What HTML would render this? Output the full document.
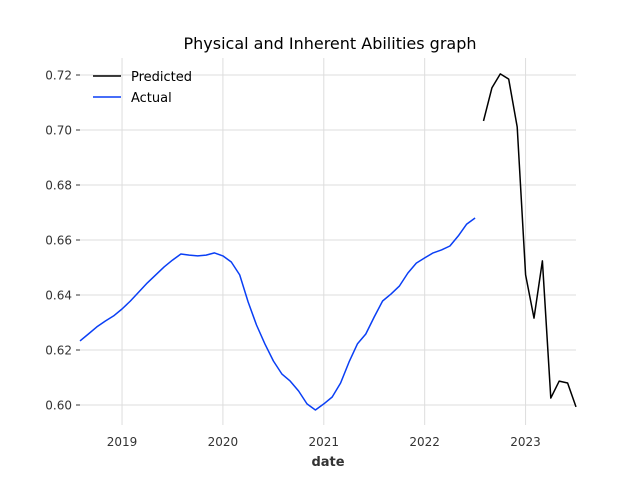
<!DOCTYPE html>
<html><head><meta charset="utf-8"><style>
body{margin:0;background:#fff;}
svg{display:block;font-family:"DejaVu Sans","Liberation Sans",sans-serif;}
</style></head><body>
<svg id="chart" width="640" height="480">
<text x="330" y="49" text-anchor="middle" font-size="16" fill="#000">Physical and Inherent Abilities graph</text>
<g id="grid"></g><g id="axes"></g><g id="series"></g>
<text x="328" y="466" text-anchor="middle" font-size="13" font-weight="bold" fill="#333">date</text>
<g>
<g><line x1="93" y1="76" x2="121" y2="76" stroke="#000" stroke-width="1.5"/><text x="131" y="81" font-size="13" fill="#000">Predicted</text></g>
<g><line x1="93" y1="97" x2="121" y2="97" stroke="#0a3ff5" stroke-width="1.5"/><text x="131" y="102" font-size="13" fill="#000">Actual</text></g>
</g>
</svg>
<script>
const actualStart = 2018 + 7/12;
const actualValues = [0.6233,0.6258,0.6284,0.6305,0.6324,0.6349,0.6378,0.6411,0.6444,0.6473,0.6502,0.6527,0.6549,0.6545,0.6542,0.6545,0.6553,0.6542,0.6520,0.6473,0.6375,0.6291,0.6222,0.6160,0.6113,0.6087,0.6051,0.6004,0.5982,0.6004,0.6029,0.6080,0.6156,0.6222,0.6258,0.6320,0.6378,0.6404,0.6433,0.6480,0.6516,0.6535,0.6553,0.6564,0.6578,0.6615,0.6658,0.6680];
const predStart = 2022 + 7/12;
const predValues = [0.7033,0.7153,0.7204,0.7185,0.7011,0.6473,0.6316,0.6524,0.6025,0.6087,0.6080,0.5993];
const xTicks = [2019,2020,2021,2022,2023];
const yTicks = [0.60,0.62,0.64,0.66,0.68,0.70,0.72];
const yTickLabels = ["0.60","0.62","0.64","0.66","0.68","0.70","0.72"];

const L=80,R=576,T=58,B=425;
const x0=2018+7/12, x1=2023.5;
const xs=v=>L+(v-x0)/(x1-x0)*(R-L);
const ys=v=>75+(0.72-v)/0.02*55;
const NS="http://www.w3.org/2000/svg";
function mk(t,a,p){const e=document.createElementNS(NS,t);for(const k in a)e.setAttribute(k,a[k]);p.appendChild(e);return e;}
const grid=document.getElementById('grid'),axes=document.getElementById('axes'),ser=document.getElementById('series');
xTicks.forEach(t=>{
  const x=xs(t);
  const g=mk('line',{x1:x,y1:T,x2:x,y2:B,stroke:'#dddddd','stroke-width':1},grid);
  
  
  const lb=mk('text',{x:x,y:B+21,'text-anchor':'middle','font-size':12,fill:'#333'},axes);
  lb.textContent=t;
  
  
});
yTicks.forEach((t,i)=>{
  const y=ys(t);
  const g=mk('line',{x1:L,y1:y,x2:R,y2:y,stroke:'#dddddd','stroke-width':1},grid);
  
  
  const tk=mk('line',{x1:L-4,y1:y,x2:L,y2:y,stroke:'#333','stroke-width':1},axes);
  
  
  const lb=mk('text',{x:L-8,y:y+4.5,'text-anchor':'end','font-size':12,fill:'#333'},axes);
  lb.textContent=yTickLabels[i];
  
  
});
function line(start,vals,color,name){
  const pts=vals.map((v,i)=>xs(start+i/12).toFixed(1)+','+ys(v).toFixed(1)).join(' ');
  const p=mk('polyline',{points:pts,fill:'none',stroke:color,'stroke-width':1.5,'stroke-linejoin':'round'},ser);
  
  
}
line(actualStart,actualValues,'#0a3ff5','actual-line');
line(predStart,predValues,'#000000','predicted-line');
</script>
</body></html>
